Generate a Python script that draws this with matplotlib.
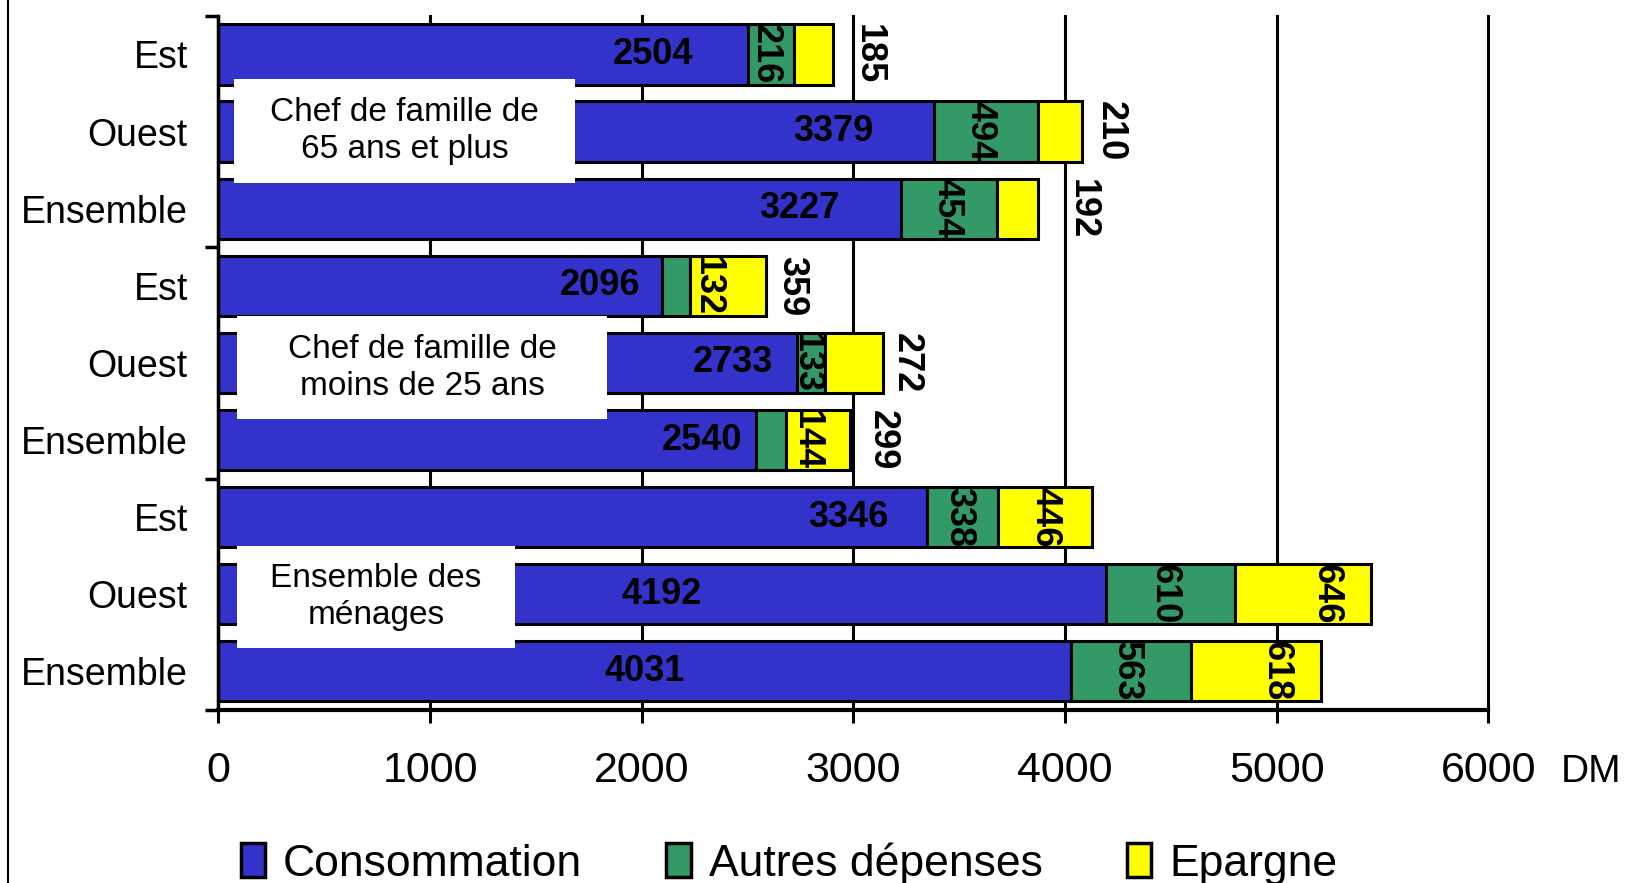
import matplotlib
matplotlib.use('Agg')
import matplotlib.pyplot as plt
from matplotlib.patches import Rectangle

plt.rcParams['font.family'] = ['Liberation Sans', 'DejaVu Sans']

rows = ['Est', 'Ouest', 'Ensemble', 'Est', 'Ouest', 'Ensemble', 'Est', 'Ouest', 'Ensemble']
consommation = [2504, 3379, 3227, 2096, 2733, 2540, 3346, 4192, 4031]
autres = [216, 494, 454, 132, 133, 144, 338, 610, 563]
epargne = [185, 210, 192, 359, 272, 299, 446, 646, 618]
series_names = ['Consommation', 'Autres dépenses', 'Epargne']
groups = ['Chef de famille de\n65 ans et plus', 'Chef de famille de\nmoins de 25 ans', 'Ensemble des\nménages']
xticks = [0, 1000, 2000, 3000, 4000, 5000, 6000]

colors = ['#3333CC', '#339966', '#FFFF00']

# label nudges (data units)
blue_frac = [0.82, 0.86, 0.85, 0.86, 0.89, 0.90, 0.89, 0.50, 0.50]
green_dx = [-30, -28, -12, 150, -24, 164, -16, -26, -20]
yellow_dx = [164, 133, 211, 123, 110, 152, 0, 111, 97]

fig = plt.figure(figsize=(16.3, 8.83), dpi=100)
ax = fig.add_axes([0.134, 0.196, 0.779, 0.786])

y = list(range(len(rows)))
h = 0.78
ax.barh(y, consommation, height=h, color=colors[0], edgecolor='black', linewidth=2.2, label=series_names[0])
ax.barh(y, autres, height=h, left=consommation, color=colors[1], edgecolor='black', linewidth=2.2, label=series_names[1])
left2 = [c + a for c, a in zip(consommation, autres)]
ax.barh(y, epargne, height=h, left=left2, color=colors[2], edgecolor='black', linewidth=2.2, label=series_names[2])

lbl = dict(fontsize=26, fontweight='bold', color='black', va='center', ha='center', zorder=7)
for i in y:
    ax.text(consommation[i] * blue_frac[i], i, str(consommation[i]), **lbl)
    ax.text(consommation[i] + autres[i] / 2 + green_dx[i], i, str(autres[i]), rotation=270, **lbl)
    end = left2[i] + epargne[i]
    if epargne[i] < 400:
        xl = end + yellow_dx[i]
    else:
        xl = left2[i] + epargne[i] / 2 + yellow_dx[i]
    ax.text(xl, i, str(epargne[i]), rotation=270, **lbl)

# white boxes with group names
boxes = [(75, 0.32, 1609, 1.35), (90, 3.39, 1745, 1.34), (90, 6.37, 1310, 1.33)]
for (bx, by, bw, bh), g in zip(boxes, groups):
    ax.add_patch(Rectangle((bx, by), bw, bh, facecolor='white', edgecolor='none', zorder=5))
    ax.text(bx + bw / 2, by + bh / 2, g, fontsize=24, ha='center', va='center',
            linespacing=1.25, zorder=6)

ax.set_xlim(0, 6000)
ax.set_ylim(8.5, -0.5)
ax.set_xticks(xticks)
ax.set_xticklabels([str(t) for t in xticks], fontsize=31)
ax.set_yticks(y)
ax.set_yticklabels(rows, fontsize=27)
ax.set_yticks([-0.5, 2.5, 5.5, 8.5], minor=True)
ax.tick_params(axis='y', which='major', length=0, pad=22)
ax.tick_params(axis='y', which='minor', length=9.5, width=2.5, direction='out')
ax.tick_params(axis='x', which='major', length=9.5, width=2.2, direction='out', pad=20)

ax.spines['top'].set_visible(False)
ax.spines['right'].set_visible(False)
ax.spines['left'].set_linewidth(2.5)
ax.spines['bottom'].set_linewidth(3)
ax.set_axisbelow(True)
ax.xaxis.grid(True, color='black', linewidth=2.2)
for gl in ax.get_xgridlines():
    gl.set_clip_on(False)

ax.text(1.057, -0.09, 'DM', transform=ax.transAxes, fontsize=28, ha='left', va='center')

# page border line at left
fig.add_artist(plt.Line2D([0.005, 0.005], [0, 1], color='black', linewidth=1.5))

handles = [Rectangle((0, 0), 1, 1, facecolor=c, edgecolor='black', linewidth=2.5) for c in colors]
fig.legend(handles, series_names, loc='center', bbox_to_anchor=(0.484, 0.022), ncol=3,
           frameon=False, fontsize=32, handlelength=0.55, handleheight=0.8,
           handletextpad=0.4, columnspacing=1.9)

fig.savefig('out.png', dpi=100)
